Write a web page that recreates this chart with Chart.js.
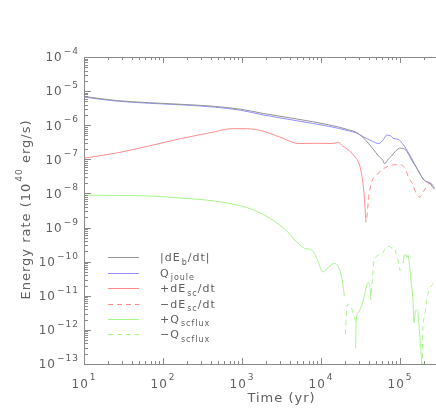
<!doctype html>
<html lang="en">
<head>
<meta charset="utf-8">
<title>Energy rate</title>
<script src="https://cdn.jsdelivr.net/npm/chart.js@4.4.1/dist/chart.umd.min.js"></script>
<style>
html, body { margin: 0; padding: 0; overflow: hidden; background: #fff; }
#wrap { position: absolute; left: 0; top: 0; width: 486px; height: 409px; }
</style>
</head>
<body>
<div id="wrap"><canvas id="myChart"></canvas></div>
<script>
// |dE_b/dt|
var tDEb = [10, 25.6, 67.6, 173, 445, 961, 1853, 4887, 12530, 22180, 28650, 35980, 43950, 55230, 60170, 63700, 71450, 77840, 89730, 100500, 119300, 137600, 168100, 199500, 243800, 273000];
var dEb  = [7.0e-6, 5.3e-6, 4.57e-6, 4.09e-6, 3.58e-6, 2.94e-6, 2.22e-6, 1.53e-6, 1.03e-6, 7.4e-7, 5.97e-7, 3.85e-7, 2.23e-7, 1.16e-7, 9.7e-8, 7.45e-8, 1.03e-7, 1.24e-7, 1.83e-7, 2.13e-7, 1.83e-7, 1.03e-7, 4.92e-8, 2.55e-8, 1.84e-8, 1.32e-8];

// Q_joule
var tJoule = [10, 25.6, 67.6, 173, 445, 961, 1853, 4887, 12530, 22180, 28650, 35980, 43950, 53700, 61940, 67450, 77840, 82400, 95000, 112700, 137600, 168100, 199500, 243800, 273000];
var qJoule = [6.7e-6, 5.1e-6, 4.4e-6, 3.95e-6, 3.4e-6, 2.75e-6, 2.01e-6, 1.36e-6, 9.3e-7, 6.9e-7, 5.78e-7, 4.3e-7, 3.46e-7, 2.9e-7, 3.85e-7, 5.1e-7, 4.7e-7, 4.1e-7, 3.85e-7, 2.49e-7, 1.16e-7, 4.92e-8, 2.5e-8, 2.0e-8, 1.44e-8];

// +dE_sc/dt and -dE_sc/dt
var tDEscPos = [10, 25.6, 67.6, 173, 445, 722, 1173, 1853, 3008, 5321, 8650, 13650, 16670, 18670, 22800, 27050, 30340, 33040, 35000, 37070];
var dEscPos  = [1.08e-7, 1.53e-7, 2.49e-7, 4.1e-7, 6.37e-7, 7.9e-7, 7.9e-7, 6.67e-7, 4.5e-7, 2.9e-7, 2.96e-7, 2.9e-7, 3.1e-7, 2.49e-7, 1.8e-7, 1.16e-7, 7.45e-8, 3.1e-8, 1.04e-8, 1.42e-9];
var tDEscNeg = [38120, 40360, 43950, 50720, 61940, 77840, 95000, 112700, 130000, 145800, 158800, 177900, 199500, 223400, 243800, 265500];
var dEscNeg  = [1.97e-9, 8.4e-9, 2.24e-8, 3.48e-8, 5.36e-8, 6.7e-8, 6.97e-8, 6.0e-8, 2.78e-8, 1.8e-8, 1.04e-8, 7.8e-9, 1.16e-8, 1.8e-8, 2.0e-8, 1.61e-8];

// +Q_scflux and -Q_scflux (null = sign change)
var tScPos = [10, 67.6, 173, 445, 1173, 1960, 3373, 5970, 7943, 9160, 10560, 12530, 14860, 16670, 18150, 19230, 19780, 20100,
              27460, 27860, 29510, 31210, 34030, 37070, 39230, 41520, 42760, 43100,
              109600, 112700, 115900, 122800, 126400, 130000, 137600, 145800, 150000, 158800, 168100, 173000, 183200, 190000];
var qScPos = [8.9e-9, 8.4e-9, 7.3e-9, 6.0e-9, 3.8e-9, 2.25e-9, 9.6e-10, 2.58e-10, 1.98e-10, 1.03e-10, 4.99e-11, 6.9e-11, 9.0e-11, 6.9e-11, 3.6e-11, 1.64e-11, 9.7e-12, null,
              2.85e-13, 1.64e-12, 3.17e-12, 3.93e-12, 6.97e-12, 1.64e-11, 2.43e-11, 1.87e-11, 7.6e-12, null,
              9.0e-11, 1.46e-10, 1.63e-10, 1.34e-10, 1.57e-10, 1.05e-10, 2.82e-11, 7.6e-12, 1.64e-12, 3.86e-12, 3.38e-12, 1.64e-12, 2.85e-13, 8e-14];
var tScNeg = [20370, 20940, 22180, 23450, 25570, 27050, 27300,
              43350, 43950, 45290, 46560, 49290, 53700, 60170, 65600, 73500, 77840, 84760, 89730, 95000, 100500, 106400, 108000,
              191000, 193900, 205300, 217300, 230100, 250600, 273000];
var qScNeg = [7.5e-13, 3.17e-12, 5.7e-12, 5.0e-12, 3.17e-12, 1.87e-12, null,
              1.18e-11, 1.87e-11, 4.4e-11, 9.6e-11, 1.36e-10, 1.56e-10, 1.74e-10, 2.53e-10, 2.8e-10, 2.53e-10, 2.56e-10, 1.63e-10, 1.05e-10, 5.4e-11, 7.6e-11, null,
              8e-14, 8.5e-13, 2.6e-12, 7.6e-12, 1.34e-11, 2.03e-11, 2.27e-11];

var xTickExp = [1, 2, 3, 4, 5, 6];
var yTickExp = [-13, -12, -11, -10, -9, -8, -7, -6, -5, -4];
var legendLabels = [['|dE', 'b', '/dt|'], ['Q', 'joule', ''], ['+dE', 'sc', '/dt'], ['\u2212dE', 'sc', '/dt'], ['+Q', 'scflux', ''], ['\u2212Q', 'scflux', '']];

var axisColor = '#8a8a8a';
var textColor = '#606060';
var FONT = '"DejaVu Sans"';

function pts(t, v) {
	return t.map(function (x, i) { return {x: x, y: v[i]}; });
}

function line(data, color, dash) {
	return {
		data: data, borderColor: color, backgroundColor: color, borderWidth: 1,
		borderDash: dash || [], pointRadius: 0, spanGaps: false,
		cubicInterpolationMode: 'monotone', fill: false
	};
}

// text with a raised or lowered part
function partText(ctx, parts, x, y, big, small, shift) {
	ctx.font = big + 'px ' + FONT;
	ctx.fillText(parts[0], x, y);
	x += ctx.measureText(parts[0]).width;
	ctx.font = small + 'px ' + FONT;
	ctx.fillText(parts[1], x + 1, y + shift);
	x += ctx.measureText(parts[1]).width + 1;
	if (parts[2]) {
		ctx.font = big + 'px ' + FONT;
		ctx.fillText(parts[2], x, y);
		x += ctx.measureText(parts[2]).width;
	}
	return x;
}

function partWidth(ctx, parts, big, small) {
	ctx.font = big + 'px ' + FONT;
	var w = ctx.measureText(parts[0]).width + (parts[2] ? ctx.measureText(parts[2]).width : 0);
	ctx.font = small + 'px ' + FONT;
	return w + ctx.measureText(parts[1]).width + 1;
}

var frame = {
	id: 'frame',
	afterDraw: function (chart) {
		var ctx = chart.ctx, a = chart.chartArea, xs = chart.scales.x, ys = chart.scales.y;
		ctx.save();
		ctx.letterSpacing = '1px';
		ctx.strokeStyle = axisColor;
		ctx.lineWidth = 1;
		ctx.strokeRect(Math.round(a.left) + 0.5, Math.round(a.top) + 0.5, Math.round(a.right - a.left), Math.round(a.bottom - a.top));

		// x ticks top and bottom
		ctx.beginPath();
		xTickExp.forEach(function (e) {
			for (var m = 1; m < 10; m++) {
				var v = m * Math.pow(10, e);
				if (v > xs.max) break;
				var px = Math.round(xs.getPixelForValue(v)) + 0.5;
				var len = m == 1 ? 6 : 3;
				ctx.moveTo(px, a.bottom); ctx.lineTo(px, a.bottom - len);
				ctx.moveTo(px, a.top); ctx.lineTo(px, a.top + len);
			}
		});
		// y ticks left and right
		yTickExp.forEach(function (e) {
			for (var m = 1; m < 10; m++) {
				var v = m * Math.pow(10, e);
				if (v > ys.max) break;
				var py = Math.round(ys.getPixelForValue(v)) + 0.5;
				var len = m == 1 ? 7 : 4;
				ctx.moveTo(a.left, py); ctx.lineTo(a.left + len, py);
				ctx.moveTo(a.right, py); ctx.lineTo(a.right - len, py);
			}
		});
		ctx.stroke();

		ctx.fillStyle = textColor;
		ctx.textBaseline = 'alphabetic';
		ctx.textAlign = 'left';
		// y tick labels
		yTickExp.forEach(function (e) {
			var parts = ['10', String(e).replace('-', '\u2212'), ''];
			var py = ys.getPixelForValue(Math.pow(10, e));
			var w = partWidth(ctx, parts, 12, 9);
			partText(ctx, parts, a.left - 5 - w, py + 4.3, 12, 9, -7.3);
		});
		// x tick labels
		xTickExp.forEach(function (e) {
			var parts = ['10', String(e), ''];
			var px = xs.getPixelForValue(Math.pow(10, e));
			var w = partWidth(ctx, parts, 12, 9);
			partText(ctx, parts, px - w / 2, 387.5, 12, 9, -7.5);
		});

		// axis titles
		ctx.font = '13px ' + FONT;
		ctx.textAlign = 'center';
		ctx.fillText('Time (yr)', (a.left + a.right) / 2, 402);
		ctx.textAlign = 'left';
		var yt = ['Energy rate (10', '40', ' erg/s)'];
		ctx.save();
		ctx.translate(30, 209.5);
		ctx.rotate(-Math.PI / 2);
		var tw = partWidth(ctx, yt, 13, 9);
		partText(ctx, yt, -tw / 2, 0, 13, 9, -8);
		ctx.restore();

		// legend
		chart.data.datasets.forEach(function (ds, i) {
			var ry = 257.3 + i * 15.4;
			ctx.strokeStyle = ds.borderColor;
			ctx.setLineDash(ds.borderDash);
			ctx.beginPath();
			ctx.moveTo(108, Math.round(ry) + 0.5);
			ctx.lineTo(139, Math.round(ry) + 0.5);
			ctx.stroke();
			ctx.setLineDash([]);
			ctx.fillStyle = textColor;
			partText(ctx, legendLabels[i], 160, ry + 4, 11, 8, 3.5);
		});
		ctx.restore();
	}
};

var ctx = document.getElementById('myChart').getContext('2d');
var chart = new Chart(ctx, {
	type: 'line',
	data: {
		datasets: [
			line(pts(tDEb, dEb), '#959595'),
			line(pts(tJoule, qJoule), '#9090ff'),
			line(pts(tDEscPos, dEscPos), '#ff8c8c'),
			line(pts(tDEscNeg, dEscNeg), '#ff8c8c', [5, 4]),
			line(pts(tScPos, qScPos), '#a8f58c'),
			line(pts(tScNeg, qScNeg), '#a8f58c', [5, 4])
		]
	},
	options: {
		responsive: true,
		maintainAspectRatio: false,
		animation: false,
		layout: { padding: { left: 76, top: 57, right: 7, bottom: 37 } },
		plugins: { legend: { display: false }, tooltip: { enabled: false } },
		scales: {
			x: {
				type: 'logarithmic', min: 10, max: 1e6,
				ticks: { display: false }, grid: { display: false }, border: { display: false }
			},
			y: {
				type: 'logarithmic', min: 1e-13, max: 1e-4,
				ticks: { display: false }, grid: { display: false }, border: { display: false }
			}
		}
	},
	plugins: [frame]
});
</script>
</body>
</html>
